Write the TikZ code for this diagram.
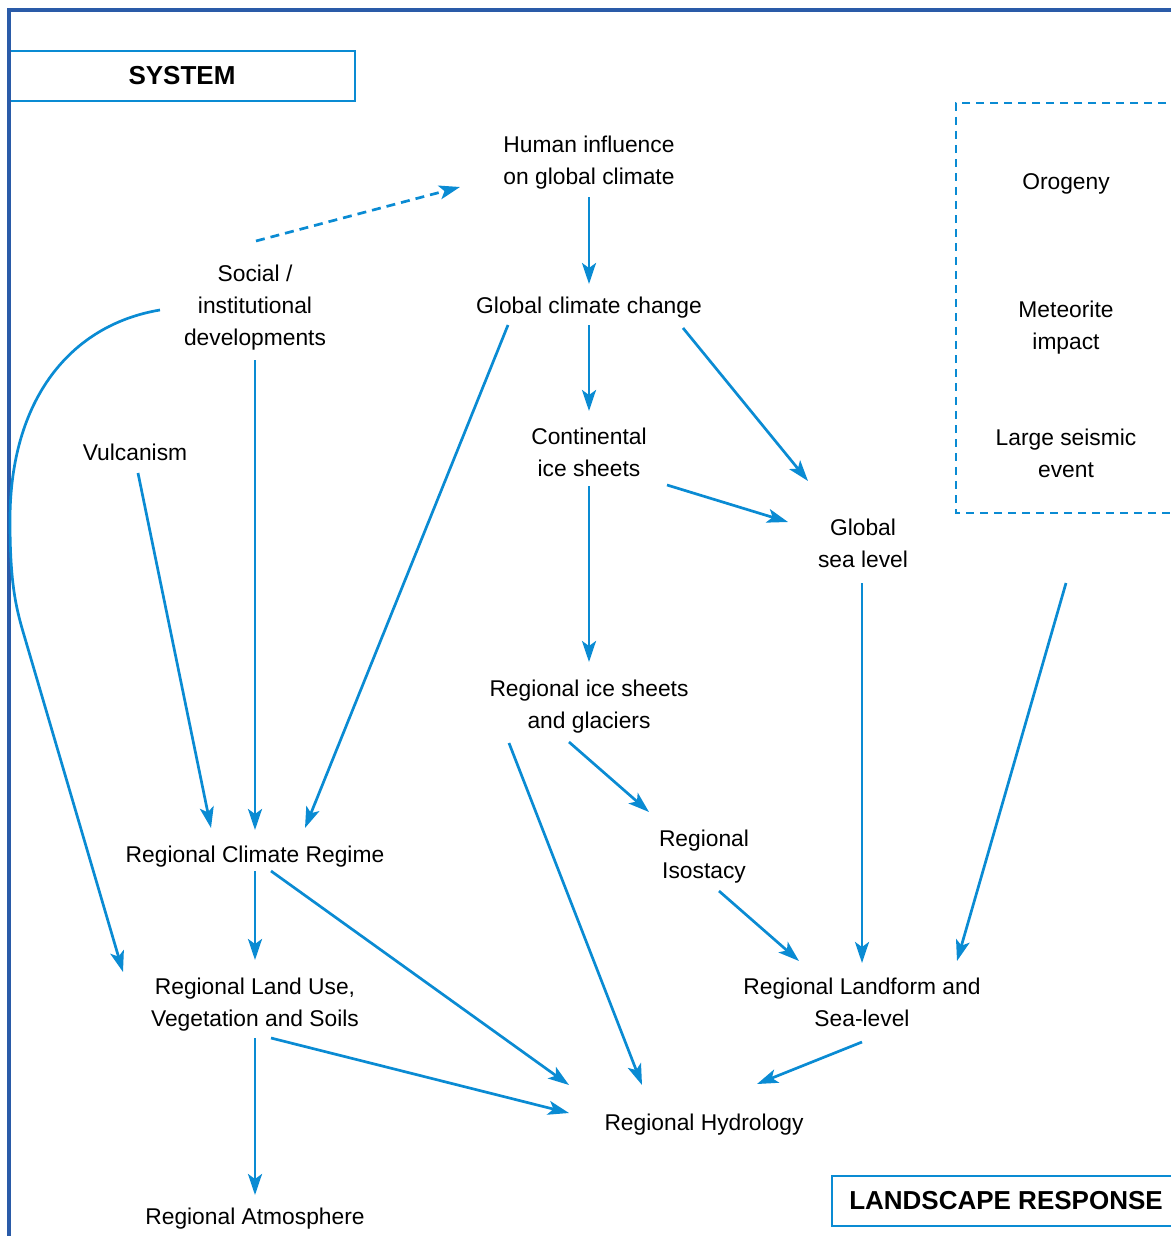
\documentclass[tikz,border=0pt]{standalone}
\usepackage{fontspec}
\setmainfont{Liberation Sans}
\usepackage{xcolor}
\usetikzlibrary{calc, positioning, arrows.meta}
\definecolor{flowblue}{HTML}{0A8BD3}
\definecolor{frameblue}{HTML}{2A5BA8}
\tikzset{
    item/.style={align=center, inner sep=0pt, font=\fontsize{11.4}{16}\selectfont,
        execute at begin node=\strut, execute at end node=\strut},
    headbox/.style={rectangle, draw=flowblue, line width=1.4pt, fill=white, inner sep=0pt, font=\fontsize{13}{16}\selectfont\bfseries},
    flow/.style={-{Stealth[length=10.5pt, width=7pt, inset=2.5pt]}, draw=flowblue, line width=1.35pt},
    hint/.style={flow, dash pattern=on 4.5pt off 3pt},
    frame/.style={draw=frameblue, line width=1.8pt},
    extern/.style={draw=flowblue, line width=1.3pt, dash pattern=on 4pt off 3pt}
}

\begin{document}
\begin{tikzpicture}[x=0.5pt, y=-0.5pt]
    \useasboundingbox (0,0) rectangle (1171,1236);

    % Headings
    \node[headbox, minimum width=173pt, minimum height=25pt] (system) at (182,76) {SYSTEM};
    \node[headbox, minimum width=174pt, minimum height=25pt] (response) at (1006,1201) {LANDSCAPE RESPONSE};
    \draw[frame] (9,1245) -- (9,10) -- (1180,10);

    % External events
    \draw[extern] (1180,103) -- (956,103) -- (956,513) -- (1180,513);
    \node[item] (orogeny) at (1066,183) {Orogeny};
    \node[item] (meteor) at (1066,330) {Meteorite\\impact};
    \node[item] (seismic) at (1066,458) {Large seismic\\event};
    \coordinate (tecto) at (1066,583);

    % Global level
    \node[item] (human) at (589,165) {Human influence\\on global climate};
    \node[item] (gcc) at (589,307) {Global climate change};
    \node[item] (social) at (255,310) {Social /\\institutional\\developments};
    \node[item] (contice) at (589,457) {Continental\\ice sheets};
    \node[item] (vulcan) at (135,454) {Vulcanism};
    \node[item] (gsl) at (863,548) {Global\\sea level};

    % Regional level
    \node[item] (regice) at (589,709) {Regional ice sheets\\and glaciers};
    \node[item] (isostacy) at (704,859) {Regional\\Isostacy};
    \node[item] (climate) at (255,856) {Regional Climate Regime};
    \node[item] (landuse) at (255,1007) {Regional Land Use,\\Vegetation and Soils};
    \node[item] (landform) at (862,1007) {Regional Landform and\\Sea-level};
    \node[item] (hydro) at (704,1124) {Regional Hydrology};
    \node[item] (atmos) at (255,1218) {Regional Atmosphere};

    % Connectors
    \draw[hint] ($(social)+(1,-69)$) -- ($(human)+(-129,22)$);
    \draw[flow] ($(human)+(0,32)$) -- ($(gcc)+(0,-23)$);
    \draw[flow] ($(gcc)+(0,18)$) -- ($(contice)+(0,-46)$);
    \draw[flow] ($(gcc)+(94,21)$) -- ($(gsl)+(-55,-67)$);
    \draw[flow] ($(contice)+(78,28)$) -- ($(gsl)+(-75,-26)$);
    \draw[flow] ($(contice)+(0,29)$) -- ($(regice)+(0,-47)$);
    \draw[flow] ($(gcc)+(-81,18)$) -- ($(climate)+(50,-28)$);
    \draw[flow] ($(social)+(0,50)$) -- ($(climate)+(0,-26)$);
    \draw[flow] ($(vulcan)+(3,19)$) -- ($(climate)+(-44,-28)$);
    \draw[flow] ($(social)+(-95,0)$) .. controls (70,325) and (10,400) .. (10,520)
        .. controls (10,580) and (15,605) .. (24,635) -- ($(landuse)+(-132,-35)$);
    \draw[flow] ($(regice)+(-20,33)$) -- ($(isostacy)+(-55,-47)$);
    \draw[flow] ($(regice)+(-80,34)$) -- ($(hydro)+(-62,-39)$);
    \draw[flow] ($(isostacy)+(15,32)$) -- ($(landform)+(-63,-46)$);
    \draw[flow] ($(gsl)+(-1,35)$) -- ($(landform)+(0,-44)$);
    \draw[flow] (tecto) -- ($(landform)+(95,-46)$);
    \draw[flow] ($(climate)+(0,15)$) -- ($(landuse)+(0,-47)$);
    \draw[flow] ($(climate)+(16,15)$) -- ($(hydro)+(-135,-39)$);
    \draw[flow] ($(landuse)+(16,31)$) -- ($(hydro)+(-135,-11)$);
    \draw[flow] ($(landuse)+(0,31)$) -- ($(atmos)+(0,-23)$);
    \draw[flow] ($(landform)+(0,35)$) -- ($(hydro)+(53,-40)$);
\end{tikzpicture}
\end{document}
